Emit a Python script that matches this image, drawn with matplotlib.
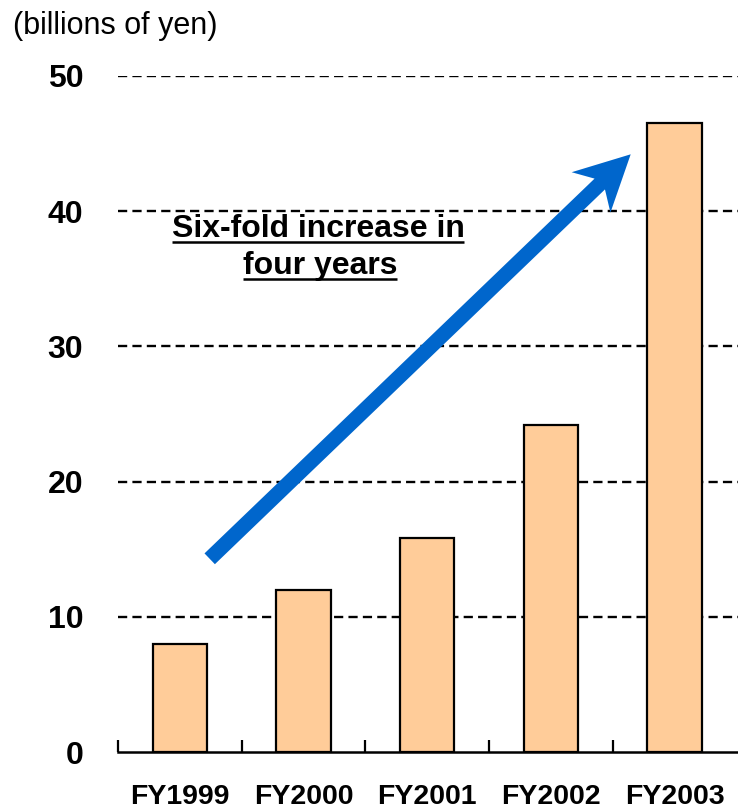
import matplotlib
matplotlib.use("Agg")
import matplotlib.pyplot as plt
from matplotlib.patches import FancyArrow
import numpy as np

# Data: annual amounts (billions of yen)
years = ["FY1999", "FY2000", "FY2001", "FY2002", "FY2003"]
amounts = [8.0, 12.0, 15.8, 24.2, 46.5]
y_ticks = [0, 10, 20, 30, 40, 50]

plt.rcParams["font.family"] = ["Liberation Sans", "DejaVu Sans"]

W, H = 738, 811
fig = plt.figure(figsize=(W / 100, H / 100), dpi=100)

# Main bar axes
ax = fig.add_axes([118 / W, (H - 752) / H, 622 / W, 676 / H])
x = np.arange(len(years))
ax.bar(x, amounts, width=0.44, color="#FFCC99", edgecolor="black",
       linewidth=1.6, zorder=3)

ax.set_xlim(-0.5, len(years) - 0.5 + 0.03)
ax.set_ylim(0, 50)
ax.set_yticks(y_ticks)
ax.set_yticklabels([str(v) for v in y_ticks], fontsize=23, fontweight="bold")
ax.tick_params(axis="y", length=0, pad=25)

ax.set_xticks(x)
ax.set_xticklabels(years, fontsize=20.5, fontweight="bold")
ax.tick_params(axis="x", which="major", length=0, pad=23)
ax.set_xticks(np.arange(len(years)) - 0.5, minor=True)
ax.tick_params(axis="x", which="minor", direction="in", length=9, width=1.6)

for s in ["left", "right", "top"]:
    ax.spines[s].set_visible(False)
ax.spines["bottom"].set_linewidth(1.8)

for v in y_ticks[1:]:
    ax.axhline(v, color="black", linewidth=1.7, linestyle=(0, (3.9, 2.2)),
               zorder=1)

# Overlay in pixel coordinates for the caption, annotation and arrow
ov = fig.add_axes([0, 0, 1, 1], facecolor="none")
ov.set_xlim(0, W)
ov.set_ylim(H, 0)
ov.axis("off")

ov.text(13, 34, "(billions of yen)", fontsize=22, ha="left", va="baseline")

lines = [("Six-fold increase in", 318, 237), ("four years", 320, 274)]
texts = []
for s, cx, by in lines:
    t = ov.text(cx, by, s, fontsize=23, fontweight="bold",
                ha="center", va="baseline")
    texts.append((t, by))

fig.canvas.draw()
inv = ov.transData.inverted()
for t, by in texts:
    bb = t.get_window_extent()
    (x0, _), (x1, _) = inv.transform([[bb.x0, bb.y0], [bb.x1, bb.y1]])
    ov.plot([x0, x1], [by + 5, by + 5], color="black", linewidth=1.8,
            solid_capstyle="butt")

tail = (209.7, 558.8)
tip = (630.7, 154.3)
ov.add_patch(FancyArrow(tail[0], tail[1], tip[0] - tail[0], tip[1] - tail[1],
                        width=15, head_width=56, head_length=55,
                        overhang=0.22, length_includes_head=True,
                        color="#0066CC", linewidth=0, zorder=5))

fig.savefig("out.png", dpi=100)
